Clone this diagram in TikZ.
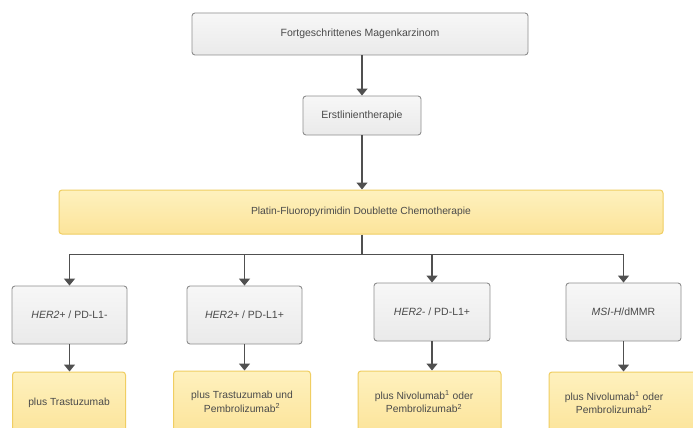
\documentclass[tikz,border=0pt]{standalone}
\usepackage{fontspec}
\setmainfont{Liberation Sans}
\usetikzlibrary{arrows.meta}
\definecolor{txtc}{HTML}{4A4A4A}
\definecolor{linec}{HTML}{505050}
\definecolor{grayborder}{HTML}{8E8E8E}
\definecolor{graytop}{HTML}{F7F7F7}
\definecolor{graybot}{HTML}{EAEAEA}
\definecolor{yelborder}{HTML}{F0CE62}
\definecolor{yeltop}{HTML}{FEF1BE}
\definecolor{yelbot}{HTML}{FCE49A}
\tikzset{
  graybox/.style={draw=grayborder, line width=0.9pt, rounded corners=3pt,
    top color=graytop, bottom color=graybot, inner sep=0pt,
    text=txtc, font=\fontsize{10.5}{13}\selectfont, align=center},
  yelbox/.style={draw=yelborder, line width=1pt, rounded corners=3pt,
    top color=yeltop, bottom color=yelbot, inner sep=0pt,
    text=txtc, font=\fontsize{10.3}{13.5}\selectfont, align=center},
  conn/.style={draw=linec, line width=1.3pt,
    -{Triangle[width=11pt,length=7pt]}},
  bus/.style={draw=linec, line width=1.3pt}
}
\begin{document}
\begin{tikzpicture}[x=1pt,y=-1pt]
\useasboundingbox (0,0) rectangle (693,428);
\clip (0,0) rectangle (693,428);
\fill[white] (0,0) rectangle (693,428);

\node[graybox, minimum width=336pt, minimum height=42pt] (top) at (360,34) {Fortgeschrittenes Magenkarzinom};
\node[graybox, minimum width=118pt, minimum height=39pt] (erst) at (362,115.5) {Erstlinientherapie};
\node[yelbox, minimum width=604pt, minimum height=44pt] (chemo) at (361,212) {Platin-Fluoropyrimidin Doublette Chemotherapie};

\node[graybox, minimum width=115pt, minimum height=58pt] (b1) at (69.5,315) {\textit{HER2+} / PD-L1-};
\node[graybox, minimum width=115pt, minimum height=58pt] (b2) at (244.5,315) {\textit{HER2+} / PD-L1+};
\node[graybox, minimum width=116pt, minimum height=58pt] (b3) at (432,312) {\textit{HER2-} / PD-L1+};
\node[graybox, minimum width=115pt, minimum height=58pt] (b4) at (623.5,312) {\textit{MSI-H}/dMMR};

\node[yelbox, minimum width=113pt, minimum height=62pt] (y1) at (69,403) {plus Trastuzumab};
\node[yelbox, minimum width=137pt, minimum height=62pt] (y2) at (242,402) {plus Trastuzumab und\\Pembrolizumab\textsuperscript{2}};
\node[yelbox, minimum width=143pt, minimum height=62pt] (y3) at (429.5,402) {plus Nivolumab\textsuperscript{1} oder\hspace*{11pt}\\Pembrolizumab\textsuperscript{2}\hspace*{11pt}};
\node[yelbox, minimum width=148pt, minimum height=62pt] (y4) at (623,403) {plus Nivolumab\textsuperscript{1} oder\hspace*{18pt}\\Pembrolizumab\textsuperscript{2}\hspace*{18pt}};

\draw[conn] (erst.north |- top.south) -- (erst.north);
\draw[conn] (erst.south) -- (erst.south |- chemo.north);
\coordinate (busc) at ([yshift=-20pt]chemo.south -| erst.south);
\draw[bus] (chemo.south -| erst.south) -- (busc);
\draw[conn] (busc) -| (b1.north);
\draw[conn] (busc) -| (b2.north);
\draw[conn] (busc) -| (b3.north);
\draw[conn] (busc) -| (b4.north);

\draw[conn] (b1.south) -- (b1.south |- y1.north);
\draw[conn] (b2.south) -- (b2.south |- y2.north);
\draw[conn] (b3.south) -- (b3.south |- y3.north);
\draw[conn] (b4.south) -- (b4.south |- y4.north);
\end{tikzpicture}
\end{document}
